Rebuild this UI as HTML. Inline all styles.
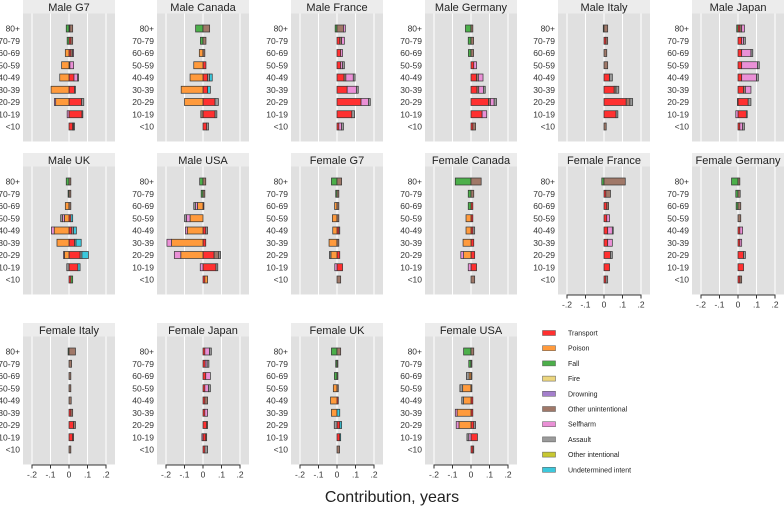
<!DOCTYPE html>
<html><head><meta charset="utf-8">
<style>
html,body{margin:0;padding:0;background:#fff;}
svg{display:block;font-family:"Liberation Sans",sans-serif;}
</style></head>
<body>
<svg id="chart" width="784" height="509" viewBox="0 0 784 509" xmlns="http://www.w3.org/2000/svg">
<text x="392" y="502" text-anchor="middle" font-size="16" fill="#222">Contribution, years</text>
</svg>
<script>
const panels = ["Male G7","Male Canada","Male France","Male Germany","Male Italy","Male Japan","Male UK","Male USA","Female G7","Female Canada","Female France","Female Germany","Female Italy","Female Japan","Female UK","Female USA"];
const ages = ["80+","70-79","60-69","50-59","40-49","30-39","20-29","10-19","<10"];
const ticks = [-0.2,-0.1,0,0.1,0.2];
const tickLabels = ["-.2","-.1","0",".1",".2"];
const causes = ["Transport","Poison","Fall","Fire","Drowning","Other unintentional","Selfharm","Assault","Other intentional","Undetermined intent"];
const causeColors = ["#ff3030","#ff9a3c","#4caf4a","#ecd67e","#a47fcc","#a07868","#ea90d6","#9a9a9a","#c8c832","#3cc8dc"];
// values in hundredths of a year, per panel, ages 80+ .. <10
const transport = [
[0.5,1,1,0.5,2.7,3,6.8,7,2],[0,0,0,1.6,2.5,2.5,6.5,6.5,2],[0,1.5,2,2,3.8,5.5,13,8,1],[0,0,0,1.5,3,3.2,9.5,6,1],
[0,1,0,0,3,5.5,12,6.5,0],[1,2,2,2,2,3,5.5,4.5,1],[0,0,0,1,1.5,3,6,4.8,1],[0,0,0.5,0,1.5,1.5,6,7,1],
[0,0,0,0,1,0,1.5,3,0],[0,0,1,1,1,1.5,2,3,0],[0,1,1.5,1.5,2,2,3.5,3,1],[0,0,0,0,1,1,3,3,1],
[0,0,0,0,0,1,2.5,2,0],[1,1.2,1.5,1,1,1,2,1.5,1],[0,0,0,0,0.7,0,1.5,1.5,0],[0,0,0,0,1,1,1.5,3.5,1]];
const poison = [
[0,0,-2,-4,-5,-9.7,-7.2,0,0],[0,0,-2,-5,-7,-11.8,-10,0,0],[0,0,0,0,0,0,0,0,0],[0,0,0,0,0,0,0,0,0],
[0,0,0,0,0,0,0,0,0],[0,0,0,0,0,0,0,0,0],[0,0,-2,-2.5,-8,-6.5,-2.5,0,0],[0,0,-3,-7,-8.5,-17,-12,0,1.5],
[0,0,-1.3,-2.5,-2.3,-4.3,-3.3,0,0],[0,0,0,-2.7,-2.7,-4.3,-4,0,0],[0,0,0,0,0,0,0,0,0],[0,0,0,0,0,0,0,0,0],
[0,0,0,0,0,0,0,0,0],[0,0,0,0,0,0,0,0,0],[0,0,0,-2,-3.5,-3,0,0,0],[0,0,-1,-4.5,-4,-7.5,-6.5,0,0]];
const fall = [
[-1.5,-1,0,0,0,0,0,0,0],[-4,-1.4,0,0,0,0,0,0,0],[-1,0,0,0,0,0,0,0,0],[-3,-1.5,-1.4,0,0,0,0,0,0],
[-0.4,0,0,0,0,0,0,0,0],[-0.7,0,0,0,0,0,0,0,0],[-1.5,-0.5,0,0,0,0,0,0,1],[-1.8,-1,0,0,0,0,0,0,0],
[-3,-0.7,0,0,0,0,0,0,0],[-8.5,-1.5,-1.5,0,0,0,0,0,0],[-1.2,0,0,0,0,0,0,0,0],[-3.5,-1.2,-1,0,0,0,0,0,0],
[-0.5,0,0,0,0,0,0,0,0],[0,0,0,0,0,0,0,0,0],[-3,-0.7,-1.4,0,0,0,0,0,0],[-4,-1.2,0,0,0,0,0,0,0]];
const otherUnint = [
[1.5,1,1,0,0,0,0,0,0.5],[3.6,1.6,1,0,0,0,0,-1.2,0],[3.5,1,0,0,1,0,0,0,0],[1,1.4,1.4,0,1,1,1,0,1.5],
[2,1,1.5,2,0,1,2,0,1.2],[1,0,0,0,0,1,0,0,0],[1,1,1,0,0,0,0,0,0],[1.5,1,0,0,0,0,2.5,0,0],
[2.5,1,1,1,0,1,0,0,2],[5.5,1.5,0,0,0,0,0,0,2],[11.5,2.5,1,0,0,0,0,0,0],[1,1.2,1.5,1.5,0,0,0,0,1],
[3.5,1.4,1,1,1.2,1,1,0.5,1],[0,0,0,0,1.5,0,0.5,0.5,0],[2,0.5,0.5,0.7,0,0,0,0,1.4],[1.5,0.5,0.5,0.5,0,0,0,0,0.5]];
const selfharm = [
[0,0,0.5,2,2,0,-0.7,-1,0],[0,0,0,0,0,0,0,0,0],[1,1.5,1,1,4,5,4,0,1.5],[0,0,0,1.5,2.5,2.5,2,2.5,0],
[0,0,0,0,0,0,0,0,0],[1.5,1,5,8.5,8,3,-0.3,-1.2,1.5],[0,0,0,-1,-1.5,0,-0.5,0,0],[0,0,-1,-2,-1,-2.5,-3.5,-1.5,0],
[0,0,0,0,0,0,0,-1.2,0],[0,0,0,0,0,0,-1.5,-1.5,0],[0,0,0,1.5,2.5,2.5,0,0,0],[0,0,0,0,1.5,1,0,0,0],
[0,0,0,0,0,0,0,0,0],[2.5,1,2.5,2,0,1.5,0,-0.6,0],[0,0,0,0,0,0,0,0,0],[0,0,0,0,0,-1,-1.5,-1.2,0]];
const assault = [
[0,0,0,0,0.5,0.5,1.2,0.5,0.5],[0,0,0,0,1,0,1.8,1,1],[0,0,0,1,1,1,1,1.5,1],[0,0,0,0,0,1,1.3,0,0],
[0,0,0,0,1.5,1.5,1.5,1,0],[0,1,1,1,1,0,1.5,0.5,1],[0,0,0,-1,1,0.8,1,-1.2,0],[0,0,-1,-1,1,0,1,1,0],
[0,0,0,0,0.5,0,-0.8,0,0],[0,0,0,0,1,0,0,0,0],[0,0,0,0,0.5,0,1,0,1],[0,0,0,0,0,0,1,0,0],
[0,0,0,0,0,0,0,0,0],[1,1,0,1,0,0,0,0,1.5],[0,0,0,0,0,0,-1.5,0,0],[0,0,-1.5,-1.5,-1,0,1,-1,0]];
const undetermined = [
[0,0,0,0,0,0,0,0,0],[0,0,0,0,1.5,1.5,0,0,0],[0,0,0,0,0,0,0,0,0],[0,0,0,0,0,0,0,0,0],
[0,0,0,0,0,0,0,0,0],[0,0,0,0,0,0,0,0,0],[0,0,0,1,1.5,2.8,3.5,1.2,0],[0,0,0,0,0,0,0,0,0],
[0,0,0,0,0,0,0,0,0],[0,0,0,0,0,0,0,0,0],[0,0,0,0,0,0,0,0,0],[0,0,0,0,0,0,0,0,0],
[0,0,0,0,0,0,0,0,0],[0,0,0,0,0,0,0,0,0],[0,0,0,0,0,1.5,1,0.5,0],[0,0,0,0,0,0,0,0,0]];

const series = [[transport,0],[poison,1],[fall,2],[otherUnint,5],[selfharm,6],[assault,7],[undetermined,9]];
const NS = "http://www.w3.org/2000/svg";
const svg = document.getElementById("chart");
function el(tag, attrs, parent){const e=document.createElementNS(NS,tag);for(const k in attrs)e.setAttribute(k,attrs[k]);(parent||svg).appendChild(e);return e;}

const colLeft = [23,157,291,425,558,692];
const rowTop = [0,153,323];
const stripH = 13.5, plotH = 128, panelW = 92;
const pxPerUnit = 185; // pixels per 1 year
const axisPanels = [10,11,12,13,14,15];

panels.forEach((name, p) => {
  const r = Math.floor(p/6), c = p%6;
  const x0 = colLeft[c], top = rowTop[r], pTop = top + stripH;
  const g = el("g", {});
  
  
  const strip = el("rect", {x:x0, y:top, width:panelW, height:stripH, fill:"#ececec"}, g);
  
  
  const title = el("text", {x:x0+panelW/2, y:top+11, "text-anchor":"middle", "font-size":"11", fill:"#222"}, g);
  title.textContent = name;
  
  
  const bg = el("rect", {x:x0, y:pTop, width:panelW, height:plotH, fill:"#e0e0e0"}, g);
  
  
  const zero = x0 + 46;
  const sx = v => zero + v*pxPerUnit;
  ticks.forEach(t => {
    const gl = el("line", {x1:sx(t), x2:sx(t), y1:pTop, y2:pTop+plotH, stroke:"#fff", "stroke-width":1}, g);
    
    
  });
  ages.forEach((a, i) => {
    const y = pTop + 15 + i*12.25;
    const lab = el("text", {x:x0-3, y:y+3, "text-anchor":"end", "font-size":"8.5", fill:"#333"}, g);
    lab.textContent = a;
    
    
    let pos = 0, neg = 0;
    series.forEach(([arr, ci]) => {
      const v = arr[p][i] / 100;
      if (!v) return;
      let a0, a1;
      if (v > 0) { a0 = pos; pos += v; a1 = pos; } else { a0 = neg; neg += v; a1 = neg; }
      const xa = sx(Math.min(a0,a1)), xb = sx(Math.max(a0,a1));
      const seg = el("rect", {x:xa, y:y-3.5, width:Math.max(xb-xa,0.5), height:7, fill:causeColors[ci], stroke:"#333", "stroke-width":0.7}, g);
      
      
    });
  });
  if (axisPanels.includes(p)) {
    const yb = pTop + plotH;
    const ax = el("line", {x1:sx(-0.2), x2:sx(0.2), y1:yb+0.5, y2:yb+0.5, stroke:"#333", "stroke-width":1}, g);
    
    
    ticks.forEach((t, k) => {
      const tk = el("line", {x1:sx(t), x2:sx(t), y1:yb, y2:yb+4, stroke:"#333", "stroke-width":1}, g);
      
      
      const tl = el("text", {x:sx(t), y:yb+13, "text-anchor":"middle", "font-size":"8.5", fill:"#333"}, g);
      tl.textContent = tickLabels[k];
      
      
    });
  }
});

// legend
causes.forEach((cName, i) => {
  const y = 333 + i*15.2;
  const lg = el("g", {});
  
  
  el("rect", {x:542.5, y:y-2.5, width:13, height:5, fill:causeColors[i], stroke:"#555", "stroke-width":0.5}, lg);
  const t = el("text", {x:568, y:y+2.5, "font-size":"7", fill:"#222"}, lg);
  t.textContent = cName;
});
</script>
</body></html>
